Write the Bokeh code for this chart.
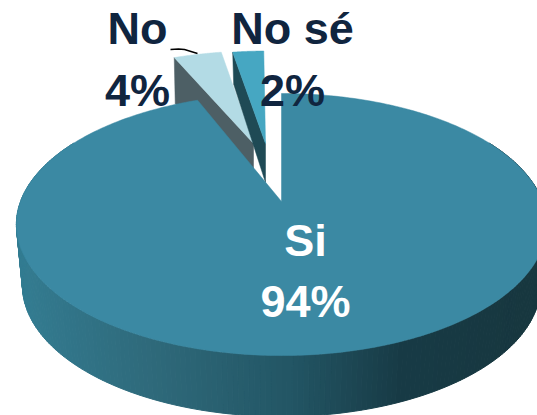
import numpy as np
from bokeh.plotting import figure
from bokeh.models import Range1d
from bokeh.core.properties import value
from bokeh.embed import file_html
from bokeh.resources import INLINE

categories = ["Si", "No", "No sé"]
shares = [93.9, 3.7, 2.4]
labels = ["94%", "4%", "2%"]

TOP = "#3b89a3"
LIGHT = "#b3dbe5"
MID = "#46a7c2"
NO_SIDE = "#4d5f65"
SE_SIDE = "#1f4a55"
NAVY = "#10253f"
WALL_X = [15, 60, 150, 290, 400, 537]
WALL_RGB = [(52, 125, 146), (50, 118, 138), (47, 106, 123), (35, 86, 101), (24, 59, 70), (23, 55, 63)]
FONT = value("Liberation Sans")

CX, CY, A, B, K = 281.0, 201.0, 261.0, 127.0, 0.1756


def project(u, v, scale=1.0, drop=0.0):
    s = 1.0 / (1.0 + K * v)
    return CX + A * scale * u * s, CY + drop - B * v * s


def sector(start, stop, off=(0.0, 0.0), n=60):
    th = np.radians(np.linspace(start, stop, n))
    u = np.concatenate([[off[0]], off[0] + np.sin(th)])
    v = np.concatenate([[off[1]], off[1] + np.cos(th)])
    return project(u, v)


edges = np.cumsum([0.0] + shares) / sum(shares) * 360.0

p = figure(width=537, height=415, output_backend="svg", toolbar_location=None,
           x_range=Range1d(0, 537), y_range=Range1d(415, 0), min_border=0,
           outline_line_color=None, background_fill_color="white")
p.axis.visible = False
p.grid.visible = False

# Wall of the big slice
DROP, NARROW = 61.0, 0.977
theta = np.radians(np.linspace(60, 300, 241))
xt, yt = project(np.sin(theta), np.cos(theta))
xb, yb = project(np.sin(theta), np.cos(theta), NARROW, DROP)
xs, ys, cols = [], [], []
for i in range(len(theta) - 1):
    xs.append([xt[i], xt[i + 1], xb[i + 1], xb[i]])
    ys.append([yt[i], yt[i + 1], yb[i + 1], yb[i]])
    mx = 0.5 * (xt[i] + xt[i + 1])
    r, g, b = [int(np.interp(mx, WALL_X, [c[k] for c in WALL_RGB])) for k in range(3)]
    cols.append(f"#{r:02x}{g:02x}{b:02x}")
p.patches(xs, ys, fill_color=cols, line_color=cols, line_width=1)

# Exploded slices: offset, turn, wall depth at the rim and at the tip
for (a, b), off, turn, rim, tip, top, side in [
        ((edges[1], edges[2]), (-0.1166, 0.4966), -1.4, 46.0, 40.0, LIGHT, NO_SIDE),
        ((edges[2], edges[3]), (-0.0666, 0.4966), -1.1, 32.0, 39.0, MID, SE_SIDE)]:
    x, y = sector(a + turn, b + turn, off)
    p.patch([x[1], x[1] + 1, x[0], x[0]], [y[1], y[1] + rim, y[0] + tip, y[0]],
            fill_color=side, line_color=side, line_width=0.5)
    p.patch(x, y, fill_color=top, line_color=top, line_width=0.5)

# Big slice
x, y = sector(edges[0], edges[1], n=400)
p.patch(x, y, fill_color=TOP, line_color=TOP, line_width=0.5)

# Leader line
p.line([170, 178, 184, 197], [49, 48.5, 49, 53], line_color="black", line_width=1.4)

# Labels
BASE = 18
for xs_, ys_, txt, col in [([137, 292], [46, 46], [categories[1], categories[2]], NAVY),
                           ([137, 292], [108, 108], [labels[1], labels[2]], NAVY),
                           ([305, 305], [258, 319], [categories[0], labels[0]], "white")]:
    p.text(xs_, [v - BASE for v in ys_], text=txt, text_font=FONT,
           text_font_style="bold", text_font_size="45px", text_color=col,
           text_align="center", text_baseline="alphabetic")

open("out.html", "w").write(file_html(p, INLINE))
